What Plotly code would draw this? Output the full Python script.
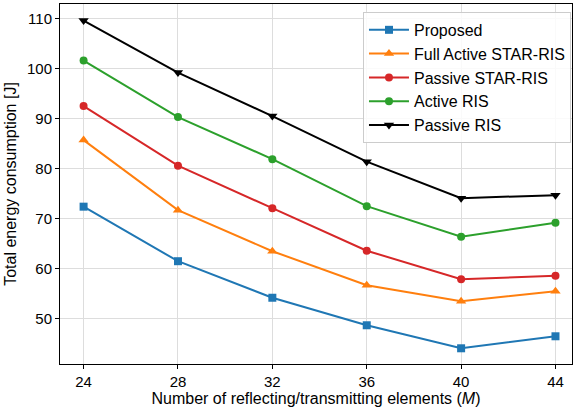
import plotly.graph_objects as go

M = [24, 28, 32, 36, 40, 44]
proposed = [72.4, 61.5, 54.2, 48.7, 44.1, 46.5]
full_active_star = [85.7, 71.7, 63.5, 56.7, 53.5, 55.5]
passive_star = [92.5, 80.6, 72.1, 63.6, 57.9, 58.6]
active_ris = [101.6, 90.3, 81.9, 72.5, 66.4, 69.2]
passive_ris = [109.6, 99.2, 90.5, 81.4, 74.1, 74.7]

series = [
    ("Proposed", proposed, "#1f77b4", "square", 8),
    ("Full Active STAR-RIS", full_active_star, "#ff7f0e", "triangle-up", 9),
    ("Passive STAR-RIS", passive_star, "#d62728", "circle", 8),
    ("Active RIS", active_ris, "#2ca02c", "circle", 8),
    ("Passive RIS", passive_ris, "#000000", "triangle-down", 9),
]

fig = go.Figure()
for name, vals, color, sym, size in series:
    fig.add_trace(go.Scatter(
        x=M, y=vals, name=name, mode="lines+markers",
        line=dict(color=color, width=2),
        marker=dict(symbol=sym, size=size, color=color),
    ))

font_family = "Liberation Sans, Arial, sans-serif"
fig.update_layout(
    width=577, height=408,
    margin=dict(l=60, r=5, t=4, b=44),
    paper_bgcolor="white", plot_bgcolor="white",
    font=dict(family=font_family, size=15, color="black"),
    showlegend=True,
    legend=dict(
        x=0.998, y=0.978, xanchor="right", yanchor="top",
        bgcolor="rgba(255,255,255,0.85)", bordercolor="#cccccc", borderwidth=1,
        font=dict(size=16), itemwidth=40,
    ),
    xaxis=dict(
        range=[23.0, 44.7], tickvals=M, ticktext=[str(v) for v in M],
        showgrid=True, gridcolor="#dddddd", gridwidth=1,
        showline=True, linecolor="black", linewidth=1, mirror=True,
        ticks="outside", ticklen=4, tickcolor="black",
        zeroline=False,
        title=dict(text="Number of reflecting/transmitting elements (<i>M</i>)", standoff=2,
                   font=dict(size=16)),
        tickfont=dict(size=15),
    ),
    yaxis=dict(
        range=[40.96, 112.9], tickvals=[50, 60, 70, 80, 90, 100, 110],
        showgrid=True, gridcolor="#dddddd", gridwidth=1,
        showline=True, linecolor="black", linewidth=1, mirror=True,
        ticks="outside", ticklen=4, tickcolor="black",
        zeroline=False,
        title=dict(text="Total energy consumption [J]", standoff=6, font=dict(size=16)),
        tickfont=dict(size=15),
    ),
)

fig.write_html("out.html")
